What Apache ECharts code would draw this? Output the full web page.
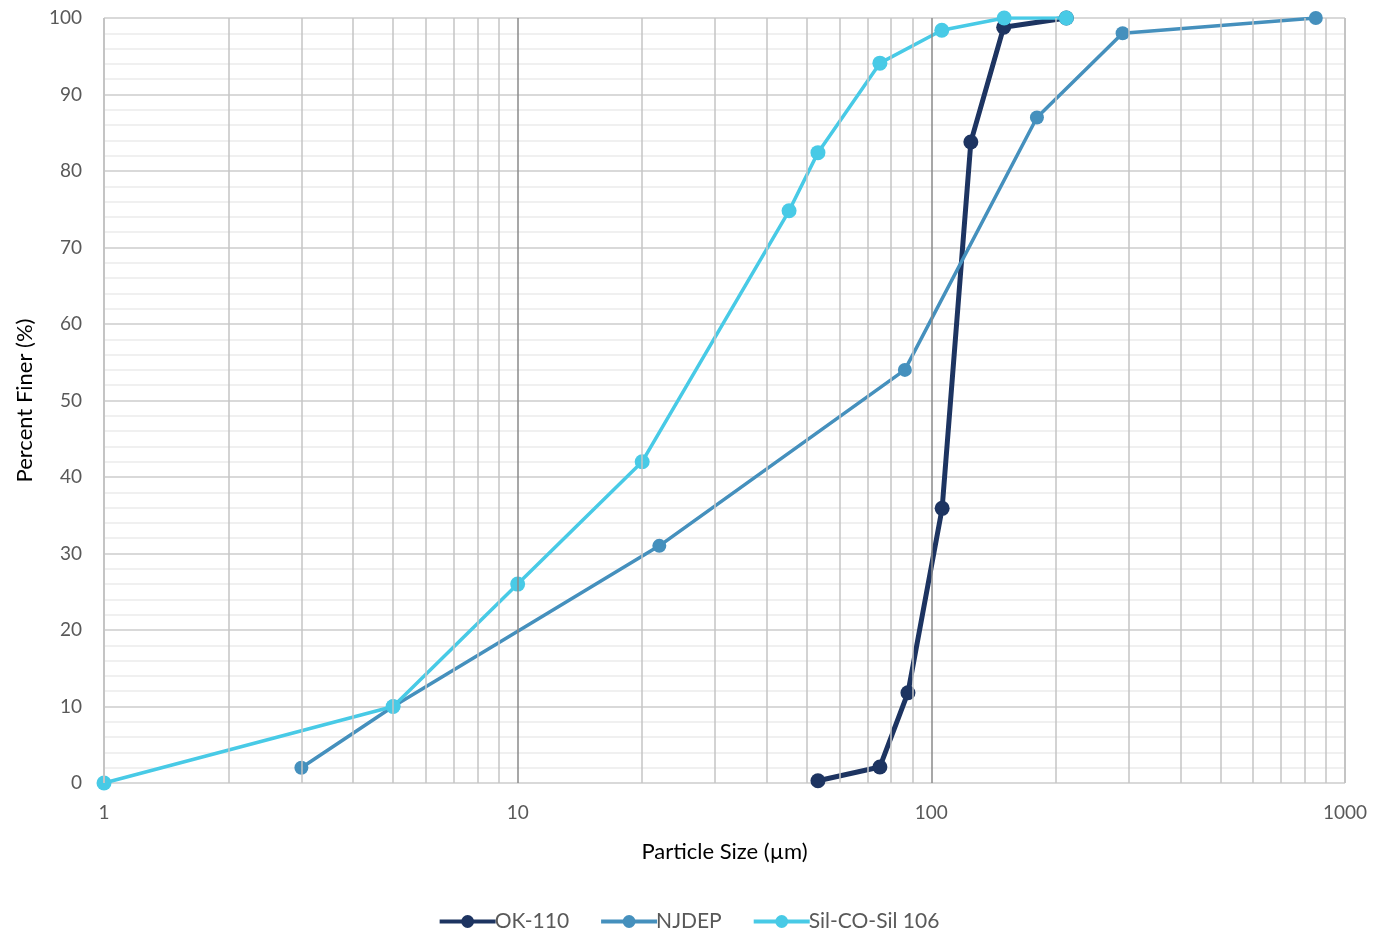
<!DOCTYPE html>
<html><head><meta charset="utf-8">
<script src="https://cdn.jsdelivr.net/npm/echarts@6/dist/echarts.min.js"></script>
<style>html,body{margin:0;padding:0;background:#fff}#c{width:1377px;height:933px}</style>
</head><body><div id="c"></div>
<script>
const seriesNames = ['OK-110', 'NJDEP', 'Sil-CO-Sil 106'];
const ok110X = [53.2, 75.1, 87.8, 106.2, 124.6, 149.6, 212];
const ok110Y = [0.3, 2.1, 11.8, 35.9, 83.8, 98.8, 100];
const njdepX = [3, 5, 22, 86.3, 180, 290, 850];
const njdepY = [2, 10, 31, 54, 87, 98, 100];
const silX = [1, 5, 10, 20, 45.3, 53.2, 75.1, 106, 150, 212];
const silY = [0, 10, 26, 42, 74.8, 82.4, 94.1, 98.4, 100, 100];
const xTicks = [1, 10, 100, 1000];
const minorX = [2,3,4,5,6,7,8,9,20,30,40,50,60,70,80,90,200,300,400,500,600,700,800,900];
const majorX = [10, 100];
const edgeX = [1, 1000];

const colors = ['#1d3461', '#4590bd', '#48cae6'];
const pair = (xs, ys) => xs.map((x, i) => [x, ys[i]]);
const font = 'Lato, "Open Sans", sans-serif';

const chart = echarts.init(document.getElementById('c'));
chart.setOption({
  animation: false,
  grid: {left: 104, right: 32, top: 18, bottom: 150},
  legend: {
    top: 906, left: 'center', itemWidth: 56, itemHeight: 16, itemGap: 30,
    lineStyle: {width: 4},
    textStyle: {fontFamily: font, fontSize: 21, color: '#595959', padding: [0,0,0,-6]},
    data: seriesNames
  },
  xAxis: {
    type: 'log', logBase: 10, min: 1, max: 1000,
    name: 'Particle Size (µm)', nameLocation: 'middle', nameGap: 58,
    nameTextStyle: {fontFamily: font, fontSize: 22, color: '#000'},
    axisLine: {show: false}, axisTick: {show: false},
    axisLabel: {fontFamily: font, fontSize: 19, color: '#595959', margin: 20,
      formatter: v => xTicks.includes(Math.round(v)) ? String(Math.round(v)) : ''},
    splitLine: {show: false}
  },
  yAxis: {
    type: 'value', min: 0, max: 100, interval: 10,
    name: 'Percent Finer (%)', nameLocation: 'middle', nameGap: 68, nameRotate: 90,
    nameTextStyle: {fontFamily: font, fontSize: 22, color: '#000'},
    axisLine: {show: false}, axisTick: {show: false},
    axisLabel: {fontFamily: font, fontSize: 19, color: '#595959', margin: 22},
    splitLine: {show: true, lineStyle: {color: '#d9d9d9', width: 2}},
    minorTick: {show: false, splitNumber: 5},
    minorSplitLine: {show: true, lineStyle: {color: '#f0f0f0', width: 2}}
  },
  series: [
    {
      name: '_grid', type: 'line', data: [], silent: true,
      markLine: {
        silent: true, symbol: 'none', label: {show: false}, animation: false,
        data: [
          ...minorX.map(v => ({xAxis: v, lineStyle: {color: '#c4c4c4', width: 1.5, type: 'solid'}})),
          ...edgeX.map(v => ({xAxis: v, lineStyle: {color: '#c4c4c4', width: 2, type: 'solid'}})),
          ...majorX.map(v => ({xAxis: v, lineStyle: {color: '#8a8a8a', width: 1.5, type: 'solid'}}))
        ]
      },
      z: 1
    },
    {name: seriesNames[0], type: 'line', data: pair(ok110X, ok110Y), color: colors[0],
     symbol: 'circle', symbolSize: 15, lineStyle: {width: 5}, z: 3},
    {name: seriesNames[1], type: 'line', data: pair(njdepX, njdepY), color: colors[1],
     symbol: 'circle', symbolSize: 14, lineStyle: {width: 3.5}, z: 3},
    {name: seriesNames[2], type: 'line', data: pair(silX, silY), color: colors[2],
     symbol: 'circle', symbolSize: 15, lineStyle: {width: 3.5}, z: 3}
  ]
});
</script></body></html>
